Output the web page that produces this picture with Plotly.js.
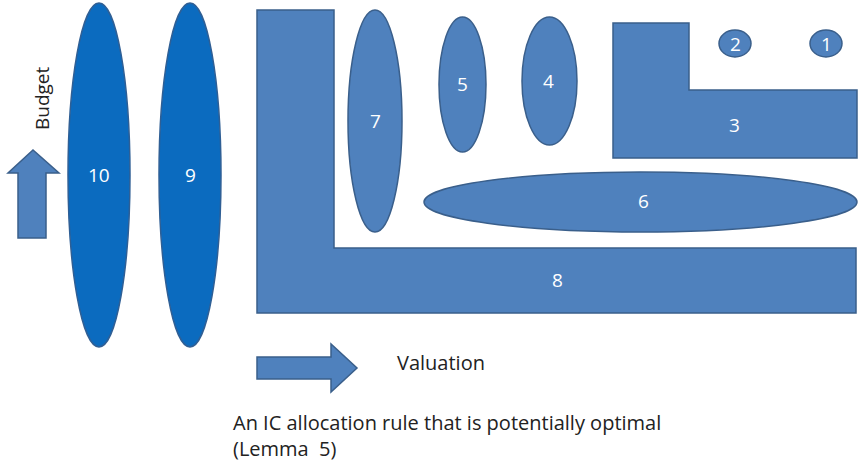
<!DOCTYPE html>
<html>
<head>
<meta charset="utf-8">
<script src="https://cdn.plot.ly/plotly-3.0.1.min.js"></script>
<style>html,body{margin:0;padding:0;background:#fff;}#chart{width:858px;height:465px;}</style>
</head>
<body>
<div id="chart"></div>
<script>
// Ellipse regions (label, x0, x1, y0, y1) in diagram units
var ellipseLabels = ["10", "9", "7", "5", "4", "6", "2", "1"];
var ellipseX0 = [68, 159, 348, 439, 522, 424, 719, 810];
var ellipseX1 = [130, 221, 402, 486, 577, 857, 751, 842];
var ellipseY0 = [3, 3, 10, 17, 17, 172, 30, 30];
var ellipseY1 = [347, 347, 232, 152, 145, 232, 57, 57];
var ellipseLabelX = [99, 190, 375, 462, 548, 643, 735, 826];
var ellipseLabelY = [175, 175, 121, 84, 81, 201, 44, 44];

// L-shaped regions (label, outer-left, inner-x, right, top, inner-y, bottom)
var lLabels = ["8", "3"];
var lLeft = [257, 613];
var lInnerX = [334, 689];
var lRight = [856, 857];
var lTop = [10, 23];
var lInnerY = [248, 90];
var lBottom = [313, 158];
var lLabelX = [557, 734];
var lLabelY = [280, 125];

// Axis arrows and captions
var axisNames = ["Budget", "Valuation"];
var captionLines = ["An IC allocation rule that is potentially optimal", "(Lemma  5)"];

var mainFill = "#4f81bd";
var deepFill = "#0b6bbf";
var edge = "#3a5f8b";
var fontFam = "'Open Sans', Lato, sans-serif";

var shapes = [];
var annotations = [];

for (var i = 0; i < lLabels.length; i++) {
  var p = "M" + lLeft[i] + "," + lTop[i] +
          " L" + lInnerX[i] + "," + lTop[i] +
          " L" + lInnerX[i] + "," + lInnerY[i] +
          " L" + lRight[i] + "," + lInnerY[i] +
          " L" + lRight[i] + "," + lBottom[i] +
          " L" + lLeft[i] + "," + lBottom[i] + " Z";
  shapes.push({type: "path", path: p, xref: "x", yref: "y",
    fillcolor: mainFill, line: {color: edge, width: 1.5}, layer: "below"});
  annotations.push({x: lLabelX[i], y: lLabelY[i], xref: "x", yref: "y", text: lLabels[i],
    showarrow: false, font: {family: fontFam, size: 19, color: "#ffffff"}});
}

for (var j = 0; j < ellipseLabels.length; j++) {
  var deep = (ellipseLabels[j] === "10" || ellipseLabels[j] === "9");
  shapes.push({type: "circle", xref: "x", yref: "y",
    x0: ellipseX0[j], x1: ellipseX1[j], y0: ellipseY0[j], y1: ellipseY1[j],
    fillcolor: deep ? deepFill : mainFill, line: {color: deep ? "#2f5f95" : edge, width: 1.5}, layer: "below"});
  annotations.push({x: ellipseLabelX[j], y: ellipseLabelY[j], xref: "x", yref: "y", text: ellipseLabels[j],
    showarrow: false, font: {family: fontFam, size: 19, color: "#ffffff"}});
}

// Budget arrow (up) and Valuation arrow (right)
shapes.push({type: "path", xref: "x", yref: "y",
  path: "M18,238 L46,238 L46,173 L59,173 L33,150 L8,173 L18,173 Z",
  fillcolor: mainFill, line: {color: edge, width: 1.5}, layer: "below"});
shapes.push({type: "path", xref: "x", yref: "y",
  path: "M257,357 L331,357 L331,344 L357,368 L331,392 L331,379 L257,379 Z",
  fillcolor: mainFill, line: {color: edge, width: 1.5}, layer: "below"});

annotations.push({x: 42, y: 98, xref: "x", yref: "y", text: axisNames[0], textangle: -90,
  showarrow: false, font: {family: fontFam, size: 19, color: "#222222"}});
annotations.push({x: 395, y: 362, xref: "x", yref: "y", text: axisNames[1], xanchor: "left",
  showarrow: false, font: {family: fontFam, size: 20, color: "#222222"}});
annotations.push({x: 231, y: 435, xref: "x", yref: "y", text: captionLines.join("<br>"),
  xanchor: "left", yanchor: "middle", align: "left",
  showarrow: false, font: {family: fontFam, size: 20, color: "#222222"}});

var layout = {
  width: 858, height: 465,
  margin: {l: 0, r: 0, t: 0, b: 0},
  paper_bgcolor: "#ffffff", plot_bgcolor: "#ffffff",
  xaxis: {range: [0, 858], visible: false, fixedrange: true},
  yaxis: {range: [465, 0], visible: false, fixedrange: true},
  shapes: shapes,
  annotations: annotations,
  showlegend: false
};

Plotly.newPlot("chart", [{x: [], y: [], type: "scatter", mode: "markers", hoverinfo: "skip"}], layout, {displayModeBar: false, staticPlot: true});
</script>
</body>
</html>
